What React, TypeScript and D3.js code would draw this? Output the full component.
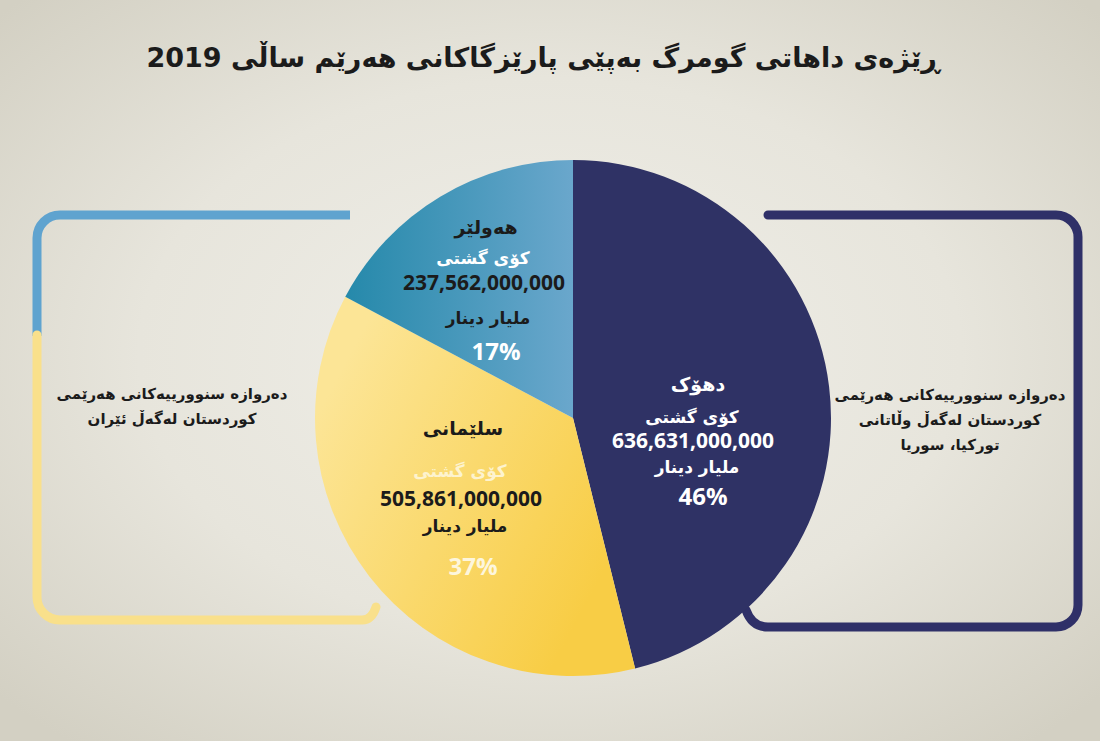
import { useEffect, useRef } from 'react';
import * as d3 from 'd3';

const W = 1100;
const H = 741;

// data
const regions = ['دهۆک', 'سلێمانی', 'هەولێر'];
const amounts = [636631000000, 505861000000, 237562000000];
const percentLabels = ['46%', '37%', '17%'];
const totalLabel = 'کۆی گشتی';
const unitLabel = 'ملیار دینار';

const title = 'ڕێژەی داهاتی گومرگ بەپێی پارێزگاکانی هەرێم ساڵی 2019';
const leftNote = ['دەروازە سنوورییەکانی هەرێمی', 'کوردستان لەگەڵ ئێران'];
const rightNote = ['دەروازە سنوورییەکانی هەرێمی', 'کوردستان لەگەڵ وڵاتانی', 'تورکیا، سوریا'];

// layout for the label blocks, relative to the pie centre
const labelOffsets = [
  { dx: 122, dy: 22 },
  { dx: -110, dy: 80 },
  { dx: -87, dy: -128 },
];

const AR_FONT = '"DejaVu Sans", sans-serif';
const NUM_FONT = '"Open Sans", "DejaVu Sans", sans-serif';

export default function App() {
  const svgRef = useRef<SVGSVGElement>(null);

  useEffect(() => {
    document.body.style.margin = '0';
    const svg = d3.select(svgRef.current);
    svg.selectAll('*').remove();

    const cx = 573;
    const cy = 418;
    const r = 258;

    const defs = svg.append('defs');
    const bg = defs.append('radialGradient').attr('id', 'bg')
      .attr('cx', '50%').attr('cy', '48%').attr('r', '68%');
    bg.append('stop').attr('offset', '0%').attr('stop-color', '#f0efe9');
    bg.append('stop').attr('offset', '55%').attr('stop-color', '#e7e5dc');
    bg.append('stop').attr('offset', '100%').attr('stop-color', '#d3d0c3');

    // gradients live in the pie group's coordinates (centre at 0,0)
    const gErbil = defs.append('linearGradient').attr('id', 'gErbil')
      .attr('gradientUnits', 'userSpaceOnUse')
      .attr('x1', -r).attr('y1', 0).attr('x2', 0).attr('y2', 0);
    gErbil.append('stop').attr('offset', '0%').attr('stop-color', '#1c85a6');
    gErbil.append('stop').attr('offset', '100%').attr('stop-color', '#6aa7cc');

    const gSul = defs.append('linearGradient').attr('id', 'gSul')
      .attr('gradientUnits', 'userSpaceOnUse')
      .attr('x1', -r).attr('y1', 0).attr('x2', 30).attr('y2', r * 0.6);
    gSul.append('stop').attr('offset', '0%').attr('stop-color', '#fce596');
    gSul.append('stop').attr('offset', '100%').attr('stop-color', '#f8cd45');

    svg.append('rect').attr('width', W).attr('height', H).attr('fill', 'url(#bg)');

    // title
    svg.append('text')
      .attr('x', 543).attr('y', 67)
      .attr('text-anchor', 'middle')
      .attr('direction', 'rtl')
      .attr('fill', '#1b1b1b')
      .style('font-family', AR_FONT)
      .style('font-size', '27px')
      .style('font-weight', '700')
      .text(title);

    // side brackets
    const brackets = svg.append('g').attr('fill', 'none').attr('stroke-width', 9);
    brackets.append('path')
      .attr('d', 'M350,215 H60 A23,23 0 0 0 37,238 V336')
      .attr('stroke', '#5fa3cf');
    brackets.append('path')
      .attr('d', 'M37,335 V597 A23,23 0 0 0 60,620 H362 Q372,620 376,607')
      .attr('stroke', '#f9e08b')
      .attr('stroke-linecap', 'round');
    brackets.append('path')
      .attr('d', 'M768,215 H1056 A22,22 0 0 1 1078,237 V605 A22,22 0 0 1 1056,627 H768 Q752,627 746,610')
      .attr('stroke', '#2f3068')
      .attr('stroke-linecap', 'round');

    // pie
    const pie = d3.pie<number>().sort(null).value(d => d);
    const arcs = pie(amounts);
    const arc = d3.arc<d3.PieArcDatum<number>>().innerRadius(0).outerRadius(r);
    const fills = ['#2f3265', 'url(#gSul)', 'url(#gErbil)'];

    const g = svg.append('g').attr('transform', `translate(${cx},${cy})`);
    g.selectAll('path.slice')
      .data(arcs)
      .join('path')
      .attr('class', 'slice')
      .attr('d', arc)
      .attr('fill', (d, i) => fills[i]);

    // label blocks
    const fmt = d3.format(',');
    const styles = [
      { name: '#ffffff', total: '#ffffff', num: '#ffffff', unit: '#ffffff', pct: '#ffffff' },
      { name: '#1b1b1b', total: '#fdf3cf', num: '#1b1b1b', unit: '#1b1b1b', pct: '#fdf6dd' },
      { name: '#1b1b1b', total: '#ffffff', num: '#1b1b1b', unit: '#1b1b1b', pct: '#ffffff' },
    ];
    // vertical layout inside each block (relative to block centre)
    const rows = [
      [-56, -23, 1, 27, 57],
      [-70, -27, 1, 28, 69],
      [-63, -32, -7, 28, 62],
    ];

    arcs.forEach((a, i) => {
      const o = labelOffsets[i];
      const lg = g.append('g').attr('transform', `translate(${o.dx},${o.dy})`);
      const s = styles[i];
      const ry = rows[i];
      lg.append('text')
        .attr('x', i === 0 ? 3 : 0).attr('y', ry[0]).attr('dy', '0.35em')
        .attr('text-anchor', 'middle').attr('direction', 'rtl')
        .attr('fill', s.name)
        .style('font-family', AR_FONT).style('font-size', '19px').style('font-weight', '700')
        .text(regions[i]);
      lg.append('text')
        .attr('x', -3).attr('y', ry[1]).attr('dy', '0.35em')
        .attr('text-anchor', 'middle').attr('direction', 'rtl')
        .attr('fill', s.total)
        .style('font-family', AR_FONT).style('font-size', '17px').style('font-weight', '700')
        .text(totalLabel);
      lg.append('text')
        .attr('x', -2).attr('y', ry[2]).attr('dy', '0.35em')
        .attr('text-anchor', 'middle')
        .attr('fill', s.num)
        .style('font-family', NUM_FONT).style('font-size', '21px').style('font-weight', '700')
        .text(fmt(a.data));
      lg.append('text')
        .attr('x', 2).attr('y', ry[3]).attr('dy', '0.35em')
        .attr('text-anchor', 'middle').attr('direction', 'rtl')
        .attr('fill', s.unit)
        .style('font-family', AR_FONT).style('font-size', '17px').style('font-weight', '700')
        .text(unitLabel);
      lg.append('text')
        .attr('x', i === 0 ? 8 : 10).attr('y', ry[4]).attr('dy', '0.35em')
        .attr('text-anchor', 'middle')
        .attr('fill', s.pct)
        .style('font-family', NUM_FONT).style('font-size', '24px').style('font-weight', '700')
        .text(percentLabels[i]);
    });

    // side notes
    const note = (lines: string[], x: number, y0: number) => {
      lines.forEach((t, i) => {
        svg.append('text')
          .attr('x', x).attr('y', y0 + i * 25).attr('dy', '0.35em')
          .attr('text-anchor', 'middle').attr('direction', 'rtl')
          .attr('fill', '#1b1b1b')
          .style('font-family', AR_FONT).style('font-size', '15px').style('font-weight', '700')
          .text(t);
      });
    };
    note(leftNote, 172, 394);
    note(rightNote, 950, 395);
  }, []);

  return (
    <svg ref={svgRef} width={W} height={H} style={{ display: 'block' }}></svg>
  );
}
